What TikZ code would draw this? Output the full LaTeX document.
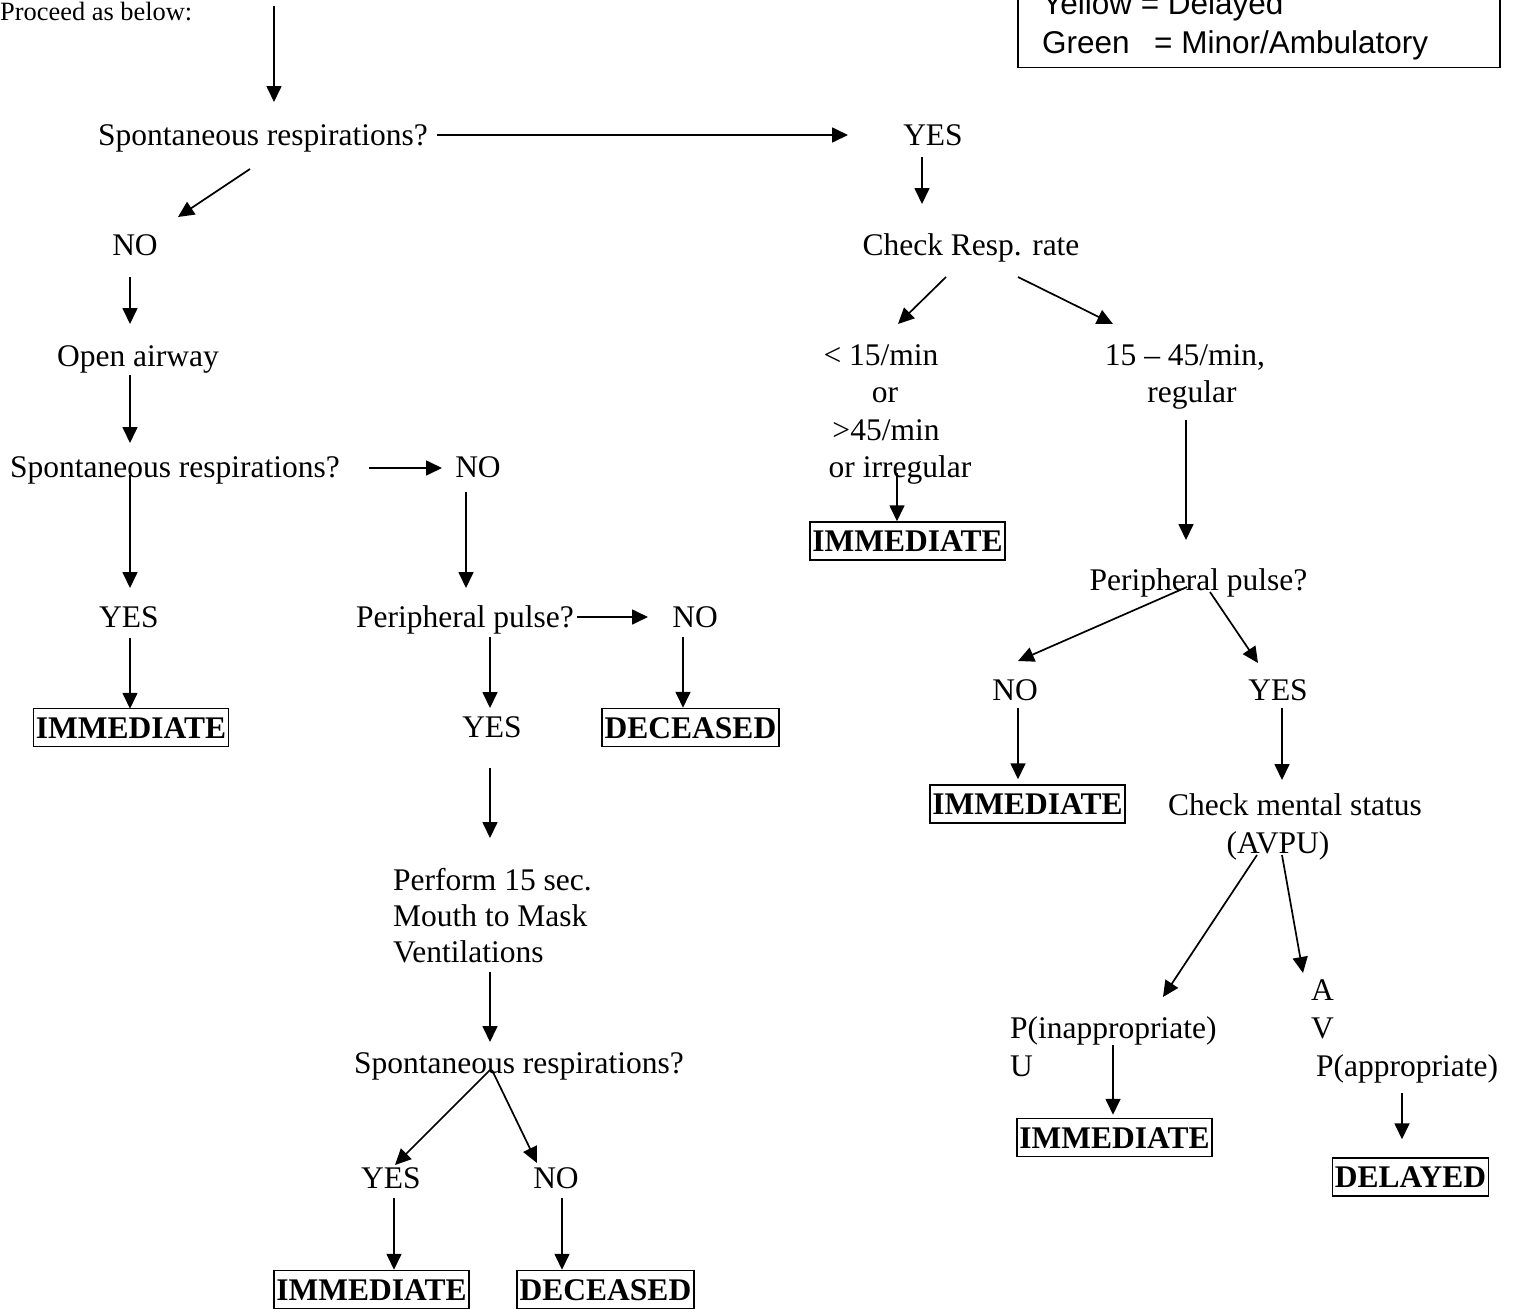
\documentclass[tikz,border=0pt]{standalone}
\usepackage{fontspec}
\setmainfont{Liberation Serif}
\newfontfamily\legendfont{Liberation Sans}
\usetikzlibrary{arrows.meta}
\begin{document}
\begin{tikzpicture}[x=1pt,y=-1pt,
  txt/.style={font=\fontsize{31.5}{36}\selectfont, inner sep=0pt, anchor=base},
  lft/.style={txt, anchor=base west},
  outcome/.style={draw, line width=1.5pt, font=\bfseries\fontsize{31.5}{36}\selectfont,
    text height=21pt, text depth=0pt, inner xsep=2.5pt, inner ysep=0pt, minimum height=38pt},
  lg/.style={font=\legendfont\fontsize{31.5}{36}\selectfont, inner sep=0pt, anchor=base west},
  arr/.style={-{Triangle[length=16pt,width=15pt]}, line width=1.7pt}]
\useasboundingbox (0,0) rectangle (1519,1309);

% legend (upper lines lie above the page)
\node[draw, line width=1.5pt, minimum width=482pt, minimum height=140pt, inner sep=0pt,
      anchor=south west] (legend) at (1017,68) {};
\node[lg] (lyellow) at (1042,14) {Yellow = Delayed};
\node[lg] (lgreen) at (1042,53) {Green};
\node[lg] (lgreendef) at (1154,53) {= Minor/Ambulatory};

% start
\node[txt, anchor=base west, font=\fontsize{26.4}{30}\selectfont] (proceed) at (0,20) {Proceed as below:};
\coordinate (top) at (274,6);

% left branch: not breathing
\node[txt] (sr1) at (263,145) {Spontaneous respirations?};
\node[txt] (no1) at (135,255) {NO};
\node[txt] (oa) at (138,366) {Open airway};
\node[txt] (sr2) at (175,477) {Spontaneous respirations?};
\node[txt] (no2) at (478,477) {NO};
\node[txt] (yes2) at (129,627) {YES};
\node[outcome] (imm1) at (131,727.5) {IMMEDIATE};
\node[txt] (pp1) at (465,627) {Peripheral pulse?};
\node[txt] (no3) at (695,627) {NO};
\node[txt] (yes3) at (492,737) {YES};
\node[outcome] (dec1) at (690.5,727.5) {DECEASED};
\node[lft] (pf1) at (393,890) {Perform 15 sec.};
\node[lft] (pf2) at (393,926) {Mouth to Mask};
\node[lft] (pf3) at (393,962) {Ventilations};
\node[txt] (sr3) at (519,1073) {Spontaneous respirations?};
\node[txt] (yes4) at (391,1188) {YES};
\node[txt] (no4) at (556,1188) {NO};
\node[outcome] (imm2) at (371.5,1289.5) {IMMEDIATE};
\node[outcome] (dec2) at (605.5,1289.5) {DECEASED};

% right branch: breathing
\node[txt] (yes1) at (933,145) {YES};
\node[txt] (crr) at (971,255) {Check Resp. rate};
\node[txt] (s1) at (881,365) {< 15/min};
\node[txt] (s2) at (885,402) {or};
\node[txt] (s3) at (886,440) {>45/min};
\node[txt] (s4) at (900,477) {or irregular};
\node[outcome] (imm3) at (907.5,541) {IMMEDIATE};
\node[txt] (r1) at (1185,365) {15 – 45/min,};
\node[txt] (r2) at (1192,402) {regular};
\node[txt] (pp2) at (1198.5,590) {Peripheral pulse?};
\node[txt] (no5) at (1015,700) {NO};
\node[txt] (yes5) at (1278,700) {YES};
\node[outcome] (imm4) at (1027.5,804) {IMMEDIATE};
\node[txt] (cms) at (1295,815) {Check mental status};
\node[txt] (avpu) at (1278,853) {(AVPU)};
\node[lft] (la) at (1311,1000) {A};
\node[lft] (lv) at (1311,1038) {V};
\node[lft] (lpa) at (1316,1076) {P(appropriate)};
\node[lft] (lpi) at (1010,1038) {P(inappropriate)};
\node[lft] (lu) at (1010,1076) {U};
\node[outcome] (imm5) at (1114.5,1137.5) {IMMEDIATE};
\node[outcome] (del) at (1410.5,1177) {DELAYED};

% connectors, left branch
\draw[arr] (top) -- ([shift={(11,-43)}]sr1.base);
\draw[arr] ([shift={(174,-10)}]sr1.base) -- ([shift={(-85,-10)}]yes1.base);
\draw[arr] ([shift={(-13,24)}]sr1.base) -- ([shift={(43,-38)}]no1.base);
\draw[arr] ([shift={(-5,22)}]no1.base) -- ([shift={(-8,-42)}]oa.base);
\draw[arr] ([shift={(-8,9)}]oa.base) -- ([shift={(-45,-34)}]sr2.base);
\draw[arr] ([shift={(194,-9)}]sr2.base) -- ([shift={(-36,-9)}]no2.base);
\draw[arr] ([shift={(-45,-2)}]sr2.base) -- ([shift={(1,-39)}]yes2.base);
\draw[arr] ([shift={(1,11)}]yes2.base) -- ([shift={(-1,1)}]imm1.north);
\draw[arr] ([shift={(-12,15)}]no2.base) -- ([shift={(1,-39)}]pp1.base);
\draw[arr] ([shift={(112,-10)}]pp1.base) -- ([shift={(-47,-10)}]no3.base);
\draw[arr] ([shift={(25,10)}]pp1.base) -- ([shift={(-2,-29)}]yes3.base);
\draw[arr] ([shift={(-12,10)}]no3.base) -- ([shift={(-7.5,0)}]dec1.north);
\draw[arr] ([shift={(-2,31)}]yes3.base) -- ([shift={(97,-52)}]pf1.base west);
\draw[arr] ([shift={(97,10)}]pf3.base west) -- ([shift={(-29,-31)}]sr3.base);
\draw[arr] ([shift={(-29,-3)}]sr3.base) -- ([shift={(4,-23)}]yes4.base);
\draw[arr] ([shift={(-27,-3)}]sr3.base) -- ([shift={(-19,-25)}]no4.base);
\draw[arr] ([shift={(3,10)}]yes4.base) -- ([shift={(22.5,0)}]imm2.north);
\draw[arr] ([shift={(6,10)}]no4.base) -- ([shift={(-43.5,0)}]dec2.north);

% connectors, right branch
\draw[arr] ([shift={(-11,12)}]yes1.base) -- ([shift={(-49,-51)}]crr.base);
\draw[arr] ([shift={(-25,22)}]crr.base) -- ([shift={(17,-41)}]s1.base);
\draw[arr] ([shift={(47,22)}]crr.base) -- ([shift={(-72,-41)}]r1.base);
\draw[arr] ([shift={(-3,-4)}]s4.base) -- ([shift={(-10.5,0)}]imm3.north);
\draw[arr] ([shift={(-6,18)}]r2.base) -- ([shift={(-12.5,-50)}]pp2.base);
\draw[arr] ([shift={(-11.5,-3)}]pp2.base) -- ([shift={(3,-39)}]no5.base);
\draw[arr] ([shift={(11.5,2)}]pp2.base) -- ([shift={(-20,-37)}]yes5.base);
\draw[arr] ([shift={(3,8)}]no5.base) -- ([shift={(-9.5,-5)}]imm4.north);
\draw[arr] ([shift={(4,8)}]yes5.base) -- ([shift={(-13,-35)}]cms.base);
\draw[arr] ([shift={(-21,2)}]avpu.base) -- ([shift={(153,-41)}]lpi.base west);
\draw[arr] ([shift={(4,2)}]avpu.base) -- ([shift={(-8,-27)}]la.base west);
\draw[arr] ([shift={(103,7)}]lpi.base west) -- ([shift={(-1.5,-3)}]imm5.north);
\draw[arr] ([shift={(86,17)}]lpa.base west) -- ([shift={(-8.5,-18)}]del.north);
\end{tikzpicture}
\end{document}
